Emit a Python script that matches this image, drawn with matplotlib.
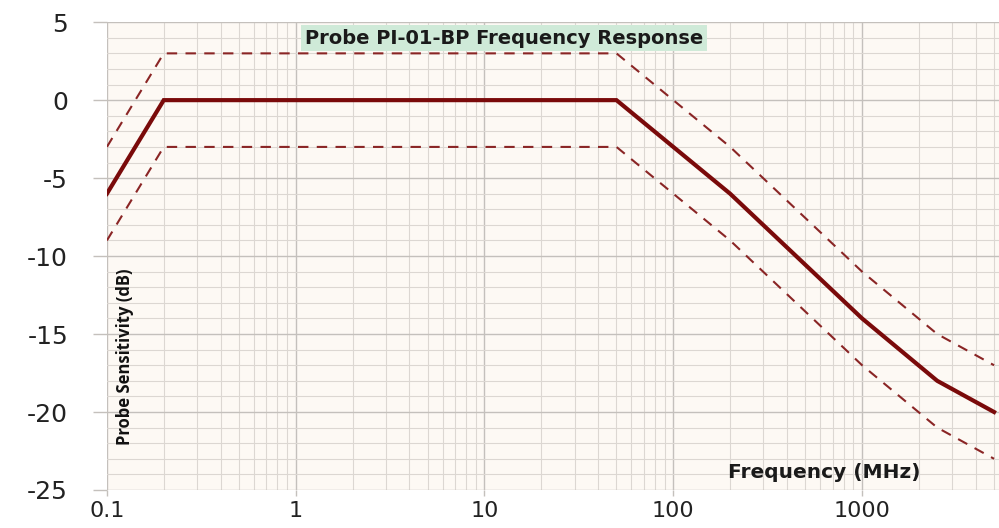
import numpy as np
import matplotlib.pyplot as plt
from matplotlib.ticker import FixedLocator, MultipleLocator, LogLocator, NullFormatter

# du lieu doc tu hinh
freq = [0.1, 0.2, 50, 200, 1000, 2500, 5000]
response = [-6, 0, 0, -6, -14, -18, -20]
upper = [-3, 3, 3, -3, -11, -15, -17]
lower = [-9, -3, -3, -9, -17, -21, -23]

x_ticks = [0.1, 1, 10, 100, 1000]
x_tick_labels = ['0.1', '1', '10', '100', '1000']
y_ticks = [5, 0, -5, -10, -15, -20, -25]

plt.rcParams['font.family'] = ['DejaVu Sans']
plt.rcParams['axes.unicode_minus'] = False

fig = plt.figure(figsize=(9.99, 5.28), dpi=100)
ax = fig.add_axes([0.107, 0.072, 0.893, 0.886])
ax.set_facecolor('#fdf9f4')

ax.plot(freq, upper, '--', color='#8a2525', lw=1.5, dashes=(5, 4))
ax.plot(freq, lower, '--', color='#8a2525', lw=1.5, dashes=(5, 4))
ax.plot(freq, response, '-', color='#7a0a0a', lw=3.0, solid_joinstyle='miter')

ax.set_xscale('log')
ax.set_xlim(0.1, 5310)
ax.set_ylim(-25, 5)

ax.xaxis.set_major_locator(FixedLocator(x_ticks))
ax.set_xticklabels(x_tick_labels)
ax.xaxis.set_minor_locator(LogLocator(base=10, subs=np.arange(2, 10)))
ax.xaxis.set_minor_formatter(NullFormatter())
ax.yaxis.set_major_locator(FixedLocator(y_ticks))
ax.yaxis.set_minor_locator(MultipleLocator(1))

ax.grid(which='major', color='#c4c0bc', lw=1.0)
ax.grid(which='minor', color='#dcd7d2', lw=0.8)
ax.set_axisbelow(True)

for s in ax.spines.values():
    s.set_visible(False)

ax.tick_params(axis='y', which='major', length=10, color='#c4c0bc', width=1.0,
               labelsize=18, labelcolor='#222222', pad=18)
ax.tick_params(axis='x', which='major', length=4, color='#c4c0bc', width=1.0,
               labelsize=16, labelcolor='#222222', pad=4)
ax.tick_params(which='minor', length=0)

ax.text(0.445, 0.966, 'Probe PI-01-BP Frequency Response', transform=ax.transAxes,
        ha='center', va='center', fontsize=14, fontweight='bold', color='#1a1a1a',
        bbox=dict(boxstyle='square,pad=0.2', fc='#cfead8', ec='none'))

ax.text(0.02, 0.284, 'Probe Sensitivity (dB)', transform=ax.transAxes,
        rotation=90, ha='center', va='center', fontsize=12, fontweight='bold',
        family=['Liberation Sans Narrow', 'Open Sans', 'DejaVu Sans'],
        color='#111111')

ax.text(0.804, 0.038, 'Frequency (MHz)', transform=ax.transAxes,
        ha='center', va='center', fontsize=14.5, fontweight='bold', color='#1a1a1a')

fig.savefig('out.png', dpi=100, facecolor='white')
